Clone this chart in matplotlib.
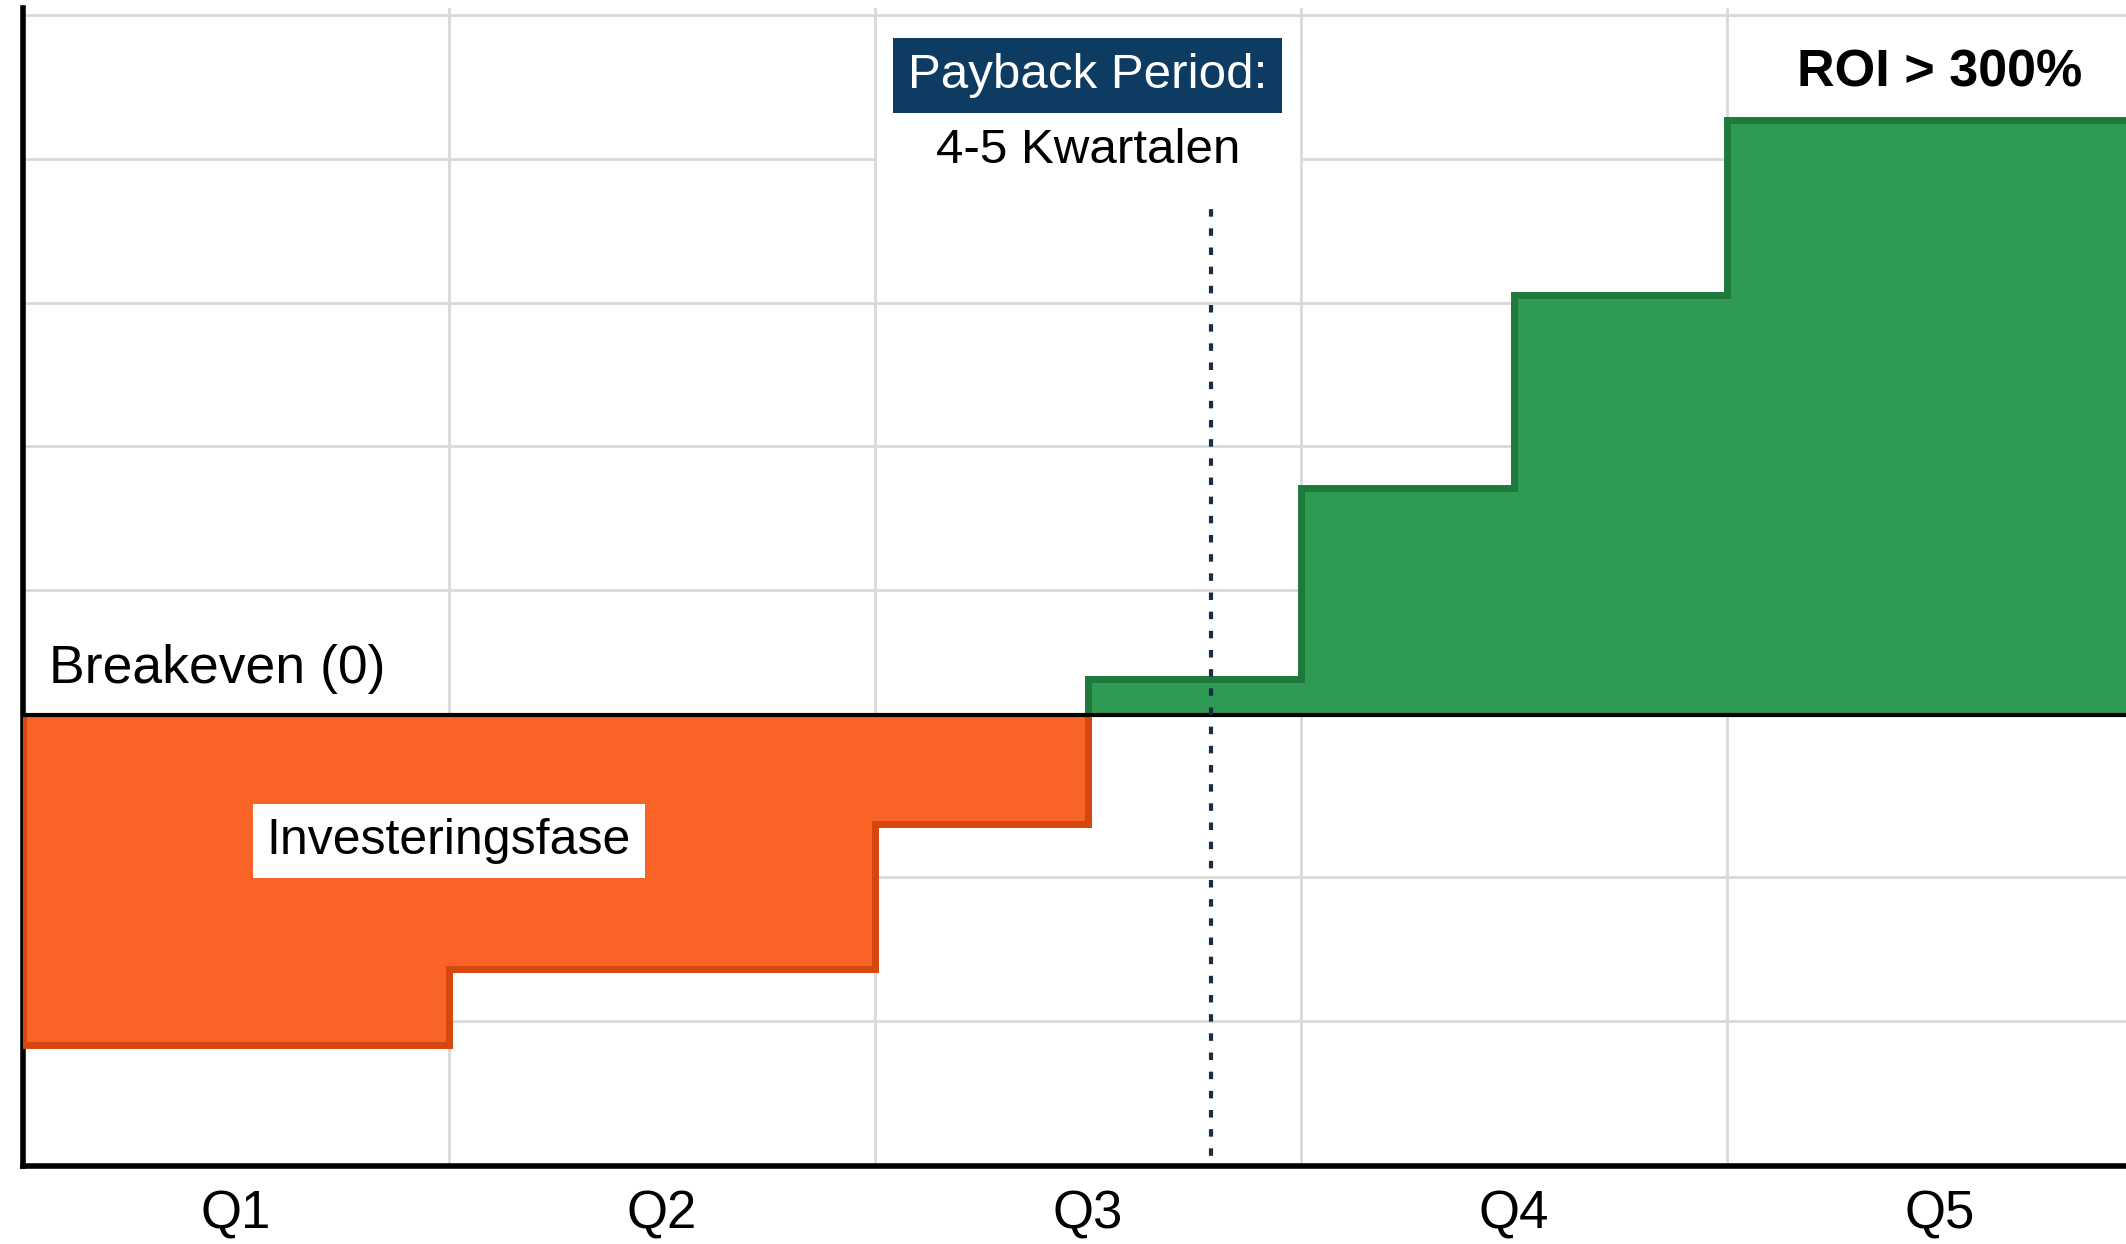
import matplotlib.pyplot as plt
from matplotlib.patches import Rectangle

plt.rcParams['font.family'] = ['Liberation Sans', 'DejaVu Sans']

quarters = ["Q1", "Q2", "Q3", "Q4", "Q5"]
# cumulative cash position per step (step edges in quarter units)
step_edges = [-0.5, 0.5, 1.5, 2.0, 2.5, 3.0, 3.5, 4.45]
cash = [-2.3, -1.77, -0.76, 0.25, 1.58, 2.92, 4.14]
payback_x = 2.29

orange = "#F96325"
orange_dark = "#D6460F"
green = "#2F9A53"
green_dark = "#1E7A3C"
navy = "#0D3B62"

fig = plt.figure(figsize=(21.26, 12.44), dpi=100)
ax = fig.add_axes([0.0108, 0.0627, 0.9892, 0.9309])

neg = [v for v in cash if v < 0]
pos = [v for v in cash if v >= 0]
n = len(neg)

ax.stairs(neg, step_edges[:n + 1], baseline=0, fill=True, color=orange, zorder=2)
ax.stairs(neg, step_edges[:n + 1], baseline=0, color=orange_dark, lw=5, zorder=3)
ax.stairs(pos, step_edges[n:], baseline=0, fill=True, color=green, zorder=2)
ax.stairs(pos, step_edges[n:], baseline=0, color=green_dark, lw=5, zorder=3)

ax.axhline(0, color="black", lw=3, zorder=4)
ax.plot([payback_x, payback_x], [-3.2, 3.6], color="#1b2d40", lw=3,
        linestyle=(0, (1.8, 2.8)), zorder=5)

# white patch behind the payback label: hides horizontal grid, not the vertical one
ax.add_patch(Rectangle((1.5, 3.62), 1.0, 0.6, fc="white", ec="none", zorder=0.3))

ax.set_xlim(-0.5, 4.437)
ax.set_ylim(-3.14, 4.92)

ax.set_xticks(range(len(quarters)))
ax.set_xticklabels(quarters, fontsize=38)
ax.set_xticks([0.5, 1.5, 2.5, 3.5], minor=True)
ax.set_yticks([-3.13, -2.13, -1.13, 0.87, 1.87, 2.87, 3.87, 4.87])
ax.set_yticklabels([])
ax.tick_params(axis="both", which="both", length=0)
ax.tick_params(axis="x", pad=17)
ax.grid(True, which="minor", axis="x", color="#d9d9d9", lw=2)
ax.grid(True, which="major", axis="y", color="#d9d9d9", lw=2)
ax.set_axisbelow(True)
ax.yaxis.set_zorder(0.2)

for side in ["top", "right"]:
    ax.spines[side].set_visible(False)
ax.spines["left"].set_linewidth(4)
ax.spines["bottom"].set_linewidth(4)

ax.text(-0.44, 0.32, "Breakeven (0)", fontsize=38.5, va="center", ha="left", zorder=6)
ax.text(0.5, -0.88, "Investeringsfase", fontsize=36, va="center", ha="center", zorder=6,
        bbox=dict(boxstyle="square,pad=0.28", fc="white", ec="none"))
ax.text(2.0, 4.45, "Payback Period:", fontsize=35.5, color="white", va="center",
        ha="center", zorder=6,
        bbox=dict(boxstyle="square,pad=0.3", fc=navy, ec="none"))
ax.text(2.0, 3.93, "4-5 Kwartalen", fontsize=35.5, va="center", ha="center", zorder=6)
ax.text(4.0, 4.47, "ROI > 300%", fontsize=37.5, fontweight="bold", va="center",
        ha="center", zorder=6)

fig.savefig("out.png", dpi=100)
